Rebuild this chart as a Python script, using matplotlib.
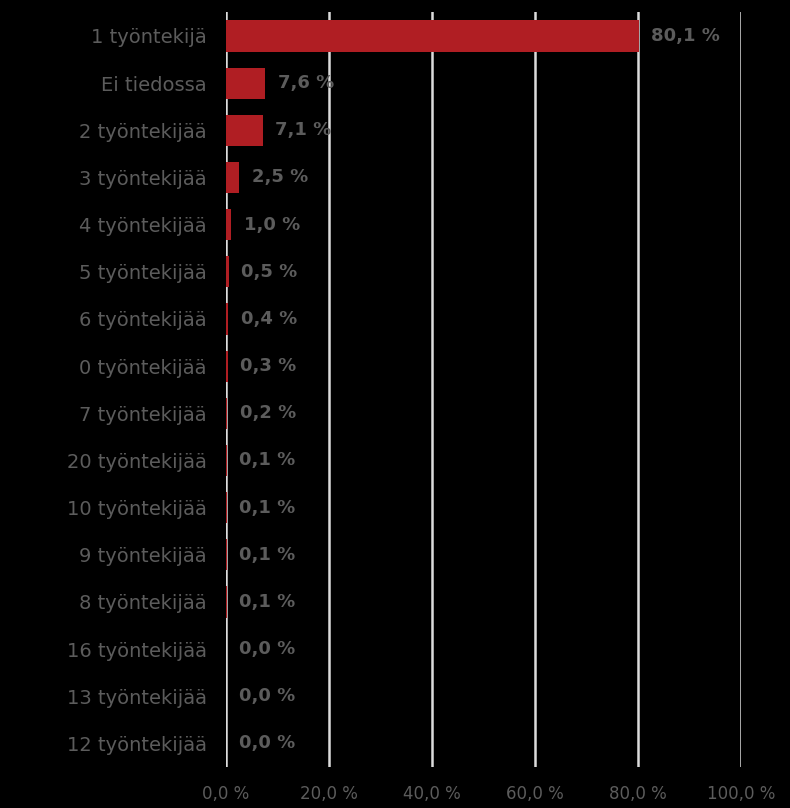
import matplotlib
matplotlib.use('Agg')
import matplotlib.pyplot as plt
import numpy as np

categories = ['1 työntekijä', 'Ei tiedossa', '2 työntekijää', '3 työntekijää',
              '4 työntekijää', '5 työntekijää', '6 työntekijää', '0 työntekijää',
              '7 työntekijää', '20 työntekijää', '10 työntekijää', '9 työntekijää',
              '8 työntekijää', '16 työntekijää', '13 työntekijää', '12 työntekijää']
values = [80.1, 7.6, 7.1, 2.5, 1.0, 0.5, 0.4, 0.3, 0.2, 0.1, 0.1, 0.1, 0.1, 0.0, 0.0, 0.0]
xticks = [0, 20, 40, 60, 80, 100]

bar_color = '#b01e23'
text_color = '#5c5c5c'

fig = plt.figure(figsize=(7.9, 8.08), dpi=100, facecolor='black')
ax = fig.add_axes([0.2861, 0.0507, 0.652, 0.934])
ax.set_facecolor('black')

y = np.arange(len(categories))
ax.barh(y, values, height=0.66, color=bar_color, zorder=3)
ax.set_ylim(len(categories) - 0.5, -0.5)
ax.set_xlim(0, 100)

ax.set_xticks(xticks)
ax.set_xticklabels(['%s %%' % ('%.1f' % t).replace('.', ',') for t in xticks],
                   color=text_color, fontsize=12)
ax.set_yticks(y)
ax.set_yticklabels(categories, color=text_color, fontsize=14)
ax.tick_params(length=0, pad=14, axis='y')
ax.tick_params(length=0, pad=13, axis='x')
ax.grid(axis='x', color='#dcdcdc', linewidth=1.8, zorder=1)
for s in ax.spines.values():
    s.set_visible(False)

for yi, v in zip(y, values):
    lbl = ('%.1f' % v).replace('.', ',') + ' %'
    ax.text(v + 2.5, yi, lbl, va='center', ha='left', color=text_color,
            fontsize=13, fontweight='bold', zorder=4)

fig.savefig('out.png', dpi=100, facecolor='black')
